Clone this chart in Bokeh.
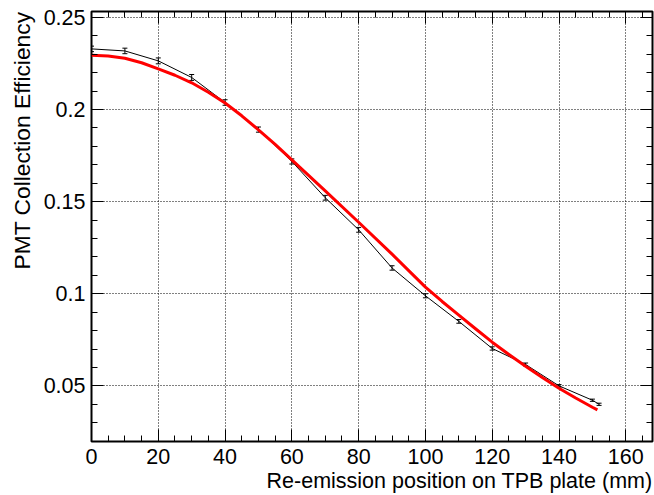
from bokeh.plotting import figure
from bokeh.models import (Range1d, LinearAxis, SingleIntervalTicker, CustomJSTickFormatter,
                          Title, Whisker, ColumnDataSource, TeeHead)
from bokeh.embed import file_html
from bokeh.resources import INLINE

# ---- data ----
x_pos = [0, 10, 20, 30, 40, 50, 60, 70, 80, 90, 100, 110, 120, 130, 140, 150, 152]
eff = [0.2329, 0.2318, 0.2264, 0.2174, 0.2038, 0.1891, 0.1718, 0.1521, 0.1347,
       0.1140, 0.0989, 0.0850, 0.0703, 0.0616, 0.0500, 0.0422, 0.0400]
eff_err = [0.0015, 0.0015, 0.0016, 0.0016, 0.0015, 0.0014, 0.0014, 0.0013, 0.0013,
           0.0012, 0.0011, 0.0010, 0.0009, 0.0008, 0.0007, 0.0006, 0.0006]

fit_x = [0, 5, 10, 15, 20, 25, 30, 35, 40, 45, 50, 55, 60, 70, 80, 90, 100,
         105, 110, 115, 120, 125, 130, 135, 140, 145, 150, 151.5]
fit_y = [0.2295, 0.2291, 0.2278, 0.2254, 0.2221, 0.2186, 0.2145, 0.2094, 0.2035,
         0.1966, 0.1890, 0.1811, 0.1727, 0.1558, 0.1388, 0.1215, 0.1036,
         0.0958, 0.0884, 0.0810, 0.0737, 0.0670, 0.0606, 0.0545, 0.0487, 0.0434,
         0.0384, 0.0370]

x_title = "Re-emission position on TPB plate (mm)"
y_title = "PMT Collection Efficiency"

X_MIN, X_MAX = 0, 168
Y_MIN, Y_MAX = 0.0198, 0.2532

FONT = "Liberation Sans"
FSIZE = "21.5px"

p = figure(width=654, height=495, output_backend="svg", toolbar_location=None,
           x_range=Range1d(X_MIN, X_MAX), y_range=Range1d(Y_MIN, Y_MAX),
           min_border_left=91, min_border_right=2, min_border_top=11, min_border_bottom=54)
p.background_fill_color = "white"
p.border_fill_color = "white"
p.outline_line_color = "black"
p.outline_line_width = 2

xt = SingleIntervalTicker(interval=20, num_minor_ticks=4)
yt = SingleIntervalTicker(interval=0.05, num_minor_ticks=5)
yfmt = CustomJSTickFormatter(code="return String(Number(tick.toFixed(2)));")
blank = CustomJSTickFormatter(code="return '';")


def style_axis(ax, show_labels):
    ax.axis_line_color = None
    ax.major_tick_in = 12
    ax.major_tick_out = 0
    ax.minor_tick_in = 6
    ax.minor_tick_out = 0
    ax.major_tick_line_color = "black"
    ax.minor_tick_line_color = "black"
    ax.major_tick_line_width = 1
    ax.minor_tick_line_width = 1
    if show_labels:
        ax.major_label_text_font = FONT
        ax.major_label_text_font_size = FSIZE
        ax.major_label_text_color = "black"
    else:
        ax.formatter = blank
        ax.major_label_text_font_size = "1px"
        ax.major_label_text_color = None
        ax.major_label_standoff = 0


xax = p.xaxis[0]
yax = p.yaxis[0]
xax.ticker = xt
yax.ticker = yt
yax.formatter = yfmt
style_axis(xax, True)
style_axis(yax, True)
xax.major_label_standoff = 7
yax.major_label_standoff = 6

top_ax = LinearAxis(ticker=xt)
right_ax = LinearAxis(ticker=yt)
style_axis(top_ax, False)
style_axis(right_ax, False)
p.add_layout(top_ax, "above")
p.add_layout(right_ax, "right")

for g, t in ((p.xgrid, xt), (p.ygrid, yt)):
    g.ticker = t
    g.grid_line_color = "black"
    g.grid_line_width = 1
    g.grid_line_dash = "1 2"

# data graph
src = ColumnDataSource(dict(x=x_pos, y=eff,
                            lo=[v - e for v, e in zip(eff, eff_err)],
                            hi=[v + e for v, e in zip(eff, eff_err)]))
p.line("x", "y", source=src, line_color="black", line_width=1)
p.add_layout(Whisker(base="x", lower="lo", upper="hi", source=src,
                     line_color="black", line_width=1,
                     upper_head=TeeHead(size=5, line_color="black", line_width=1),
                     lower_head=TeeHead(size=5, line_color="black", line_width=1)))

# fit curve
p.line(fit_x, fit_y, line_color="#ff0000", line_width=3, line_join="round")

# axis titles (ROOT style: right aligned to the frame end)
p.add_layout(Title(text=x_title, align="right", text_font=FONT, text_font_size=FSIZE,
                   text_font_style="normal", text_color="black", standoff=0), "below")
p.add_layout(Title(text=y_title, align="right", text_font=FONT, text_font_size="22.8px",
                   text_font_style="normal", text_color="black", standoff=11), "left")

open("out.html", "w").write(file_html(p, INLINE))
